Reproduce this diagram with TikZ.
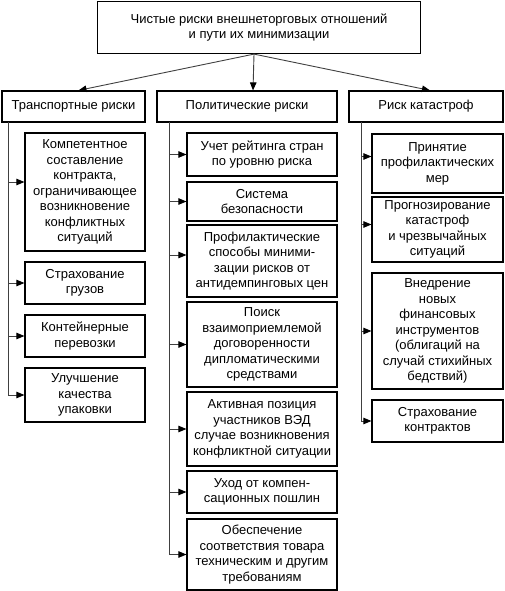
\documentclass[tikz,border=0pt]{standalone}
\usepackage{fontspec}
\setmainfont{Liberation Sans}
\usetikzlibrary{arrows.meta}

\tikzset{every picture/.style={x=1pt,y=-1pt}}
\tikzset{riskbox/.style={draw, line width=1.2pt, align=center, inner sep=0pt, font=\fontsize{13}{15.5}\selectfont}}
\tikzset{link/.style={line width=0.9pt, black!75, -{Triangle[length=8pt,width=6.5pt,black]}}}
\newcommand{\rbox}[6]{\node[riskbox, minimum width=#4pt, minimum height=#5pt] (#1) at (#2,#3) {#6};}
\newcommand{\feed}[2]{\draw[link] (#1) |- (#2);}

\begin{document}
\begin{tikzpicture}
        \useasboundingbox (0,0) rectangle (505,591);
        \rbox{top}{259}{27.5}{323}{52}{Чистые риски внешнеторговых отношений\\и пути их минимизации}
        \rbox{trans}{73.5}{106.5}{143}{31}{Транспортные риски}
        \rbox{polit}{247}{106.5}{180}{31}{Политические риски}
        \rbox{katas}{426}{106.5}{154}{31}{Риск катастроф}
        \draw[link] ([xshift=-5pt]top.south) -- ([xshift=5pt]trans.north);
        \draw[link] ([xshift=-5pt]top.south) -- ([xshift=6pt]polit.north);
        \draw[link] ([xshift=-5pt]top.south) -- ([xshift=4pt]katas.north);
        % transport
        \rbox{t1}{85}{192}{120}{118}{Компетентное\\составление\\контракта,\\ограничивающее\\возникновение\\конфликтных\\ситуаций}
        \rbox{t2}{85}{283}{120}{42}{Страхование\\грузов}
        \rbox{t3}{85}{336}{120}{42}{Контейнерные\\перевозки}
        \rbox{t4}{85}{395}{120}{54}{Улучшение\\качества\\упаковки}
        % political
        \rbox{p1}{262}{154.5}{150}{43}{Учет рейтинга стран\\по уровню риска}
        \rbox{p2}{262}{201.5}{150}{39}{Система\\безопасности}
        \rbox{p3}{262}{261}{150}{72}{Профилактические\\способы миними-\\зации рисков от\\антидемпинговых цен}
        \rbox{p4}{262}{344.5}{150}{85}{Поиск\\взаимоприемлемой\\договоренности\\дипломатическими\\средствами}
        \rbox{p5}{262}{429}{150}{74}{Активная позиция\\участников ВЭД\\случае возникновения\\конфликтной ситуации}
        \rbox{p6}{262}{492}{150}{42}{Уход от компен-\\сационных пошлин}
        \rbox{p7}{262}{554.5}{150}{71}{Обеспечение\\соответствия товара\\техническим и другим\\требованиям}
        % catastrophe
        \rbox{k1}{437.5}{163.5}{131}{59}{Принятие\\профилактических\\мер}
        \rbox{k2}{437.5}{229.5}{131}{65}{Прогнозирование\\катастроф\\и чрезвычайных\\ситуаций}
        \rbox{k3}{437.5}{331}{131}{116}{Внедрение\\новых\\финансовых\\инструментов\\(облигаций на\\случай стихийных\\бедствий)}
        \rbox{k4}{437.5}{421}{131}{42}{Страхование\\контрактов}
        \coordinate (ts) at (8,122);
        \coordinate (ps) at (169,122);
        \coordinate (ks) at (361,122);
        \feed{ts}{[yshift=10pt]t1.west}
        \feed{ts}{t2.west} \feed{ts}{t3.west} \feed{ts}{t4.west}
        \feed{ps}{p1.west} \feed{ps}{p2.west} \feed{ps}{[yshift=6pt]p3.west}
        \feed{ps}{p4.west} \feed{ps}{p5.west} \feed{ps}{p6.west} \feed{ps}{p7.west}
        \feed{ks}{[yshift=7pt]k1.west} \feed{ks}{[yshift=5pt]k2.west}
        \feed{ks}{k3.west} \feed{ks}{k4.west}
    \end{tikzpicture}
\end{document}
